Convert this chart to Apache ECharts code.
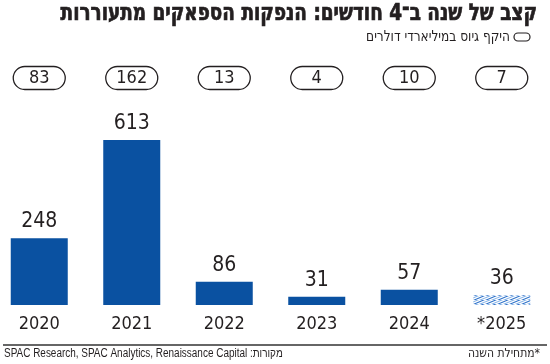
<!DOCTYPE html>
<html><head><meta charset="utf-8">
<script src="https://cdn.jsdelivr.net/npm/echarts@6/dist/echarts.min.js"></script>
<style>html,body{margin:0;padding:0;background:#fff;overflow:hidden}#c{position:absolute;left:-7px;top:0;width:557px;height:364px}</style>
</head><body><div id="c"></div>
<script>
const years = ['2020', '2021', '2022', '2023', '2024', '*2025'];
const amounts = [248, 613, 86, 31, 57, 36];
const counts = [83, 162, 13, 4, 10, 7];
const title = 'קצב של שנה ב־4 חודשים: הנפקות הספאקים מתעוררות';
const legendText = 'היקף גיוס במיליארדי דולרים';
const sourceText = 'SPAC Research, SPAC Analytics, Renaissance Capital :מקורות';
const noteText = 'מתחילת השנה*';

const BLUE = '#0a51a1';
const INK = '#231f20';
const COND = '"DejaVu Sans Condensed", sans-serif';
const OX = 7; // container offset

// hatch pattern for partial year
const pc = document.createElement('canvas');
pc.width = 12; pc.height = 4;
const g = pc.getContext('2d');
g.fillStyle = '#fff'; g.fillRect(0, 0, 12, 4);
g.lineWidth = 1.1;
g.strokeStyle = '#2a6fc8';
[-12, 0, 12].forEach(o => { g.beginPath(); g.moveTo(o, 4.5); g.lineTo(o + 12, -0.5); g.stroke(); });
g.strokeStyle = '#86b3e8';
[-6, 6].forEach(o => { g.beginPath(); g.moveTo(o, 4.5); g.lineTo(o + 12, -0.5); g.stroke(); });

const chart = echarts.init(document.getElementById('c'), null, {renderer: 'canvas'});
const barData = amounts.map((v, i) => i === years.length - 1
  ? {value: v, itemStyle: {color: {image: pc, repeat: 'repeat'}}}
  : v);

chart.setOption({
  animation: false,
  grid: {left: 0, right: 2, top: 140, bottom: 59, containLabel: false},
  xAxis: [{
    type: 'category', data: years, position: 'bottom',
    axisLine: {show: false}, axisTick: {show: false},
    axisLabel: {color: INK, fontFamily: COND, fontSize: 18, margin: 10}
  }, {
    type: 'category', data: counts.map(String), position: 'top',
    axisLine: {show: false}, axisTick: {show: false},
    axisLabel: {
      color: INK, fontFamily: COND, fontSize: 18, margin: 62,
      width: 52, height: 22, align: 'center', verticalAlign: 'middle', lineHeight: 22,
      borderColor: INK, borderWidth: 1.3, borderRadius: 12, padding: [1, 0, 0, 0]
    }
  }],
  yAxis: {type: 'value', min: 0, max: 613, show: false, splitLine: {show: false}},
  series: [{
    type: 'bar', data: barData, barWidth: 57, xAxisIndex: 0,
    itemStyle: {color: BLUE},
    label: {show: true, position: 'top', distance: 6, color: INK, fontFamily: COND, fontSize: 21}
  }],
  graphic: [
    {type: 'text', x: 537 + OX, y: 14, scaleX: 0.89,
      style: {text: title, font: 'bold 23px "DejaVu Sans Condensed", sans-serif', fill: INK, stroke: INK, lineWidth: 0.7, textAlign: 'right', textVerticalAlign: 'middle'}},
    {type: 'text', x: 510 + OX, y: 37, scaleX: 0.9,
      style: {text: legendText, font: '15px "DejaVu Sans Condensed", sans-serif', fill: INK, textAlign: 'right', textVerticalAlign: 'middle'}},
    {type: 'rect', shape: {x: 514 + OX, y: 33, width: 16, height: 8, r: 4}, style: {fill: '#fff', stroke: INK, lineWidth: 1.2}},
    {type: 'line', shape: {x1: 3 + OX, y1: 345, x2: 547 + OX, y2: 345}, style: {stroke: '#333', lineWidth: 1.5}},
    {type: 'text', x: 4 + OX, y: 354, scaleX: 0.83,
      style: {text: sourceText, font: '12px "Liberation Sans", sans-serif', fill: INK, textAlign: 'left', textVerticalAlign: 'middle'}},
    {type: 'text', x: 540 + OX, y: 354,
      style: {text: noteText, font: '12px "DejaVu Sans Condensed", sans-serif', fill: INK, textAlign: 'right', textVerticalAlign: 'middle'}}
  ]
});
</script></body></html>
